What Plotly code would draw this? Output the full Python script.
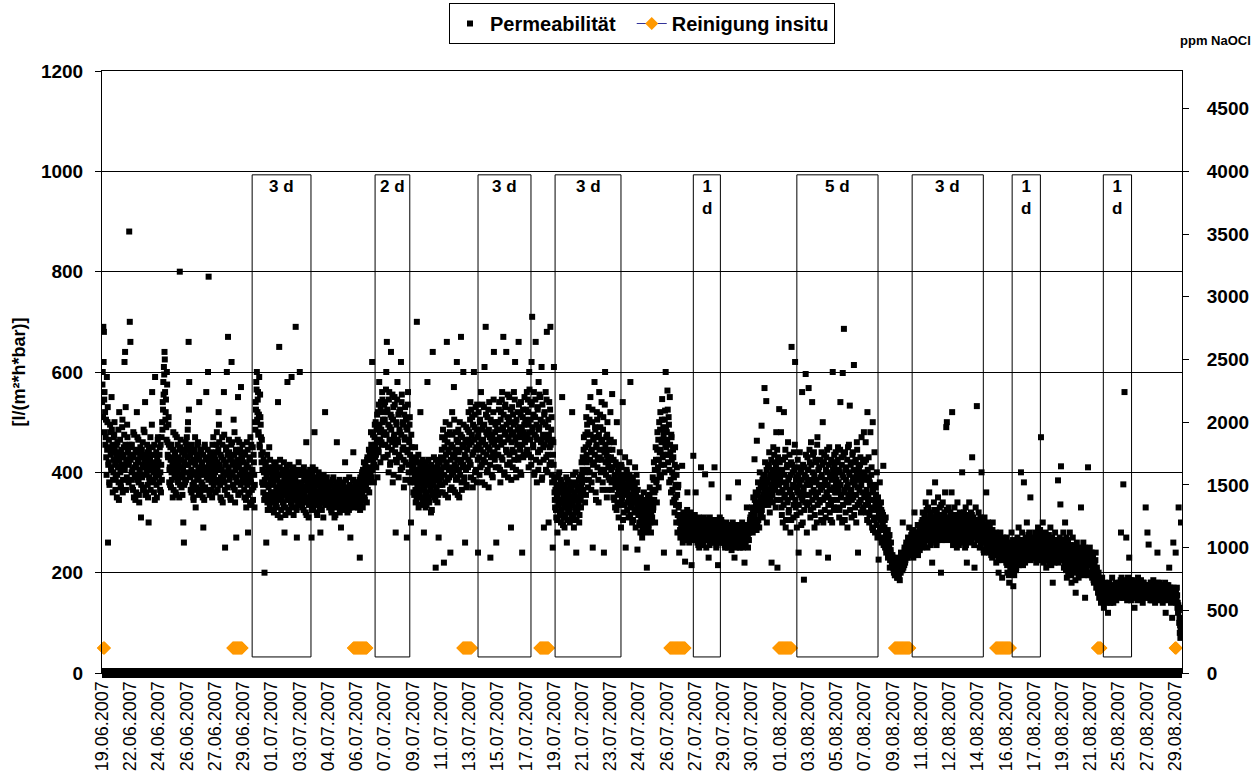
import plotly.graph_objects as go

# ---------------- data ----------------
tick_labels = ["19.06.2007", "22.06.2007", "24.06.2007", "26.06.2007", "27.06.2007", "29.06.2007",
               "01.07.2007", "03.07.2007", "04.07.2007", "06.07.2007", "07.07.2007", "09.07.2007",
               "11.07.2007", "13.07.2007", "15.07.2007", "17.07.2007", "19.07.2007", "21.07.2007",
               "23.07.2007", "24.07.2007", "26.07.2007", "27.07.2007", "29.07.2007", "30.07.2007",
               "01.08.2007", "03.08.2007", "05.08.2007", "07.08.2007", "09.08.2007", "11.08.2007",
               "12.08.2007", "14.08.2007", "16.08.2007", "17.08.2007", "19.08.2007", "21.08.2007",
               "25.08.2007", "27.08.2007", "29.08.2007"]
samples_per_label = 96

# Permeabilität [l/(m²*h*bar)] - readings A (even samples), 19.06. - 01.07.
perm_a = [
    540, 600, 690, 680, 560, 520, 470, 430, 590, 500, 260, 420, 380, 450, 480, 410, 550, 440, 360, 400, 470, 500, 420, 390,
    430, 350, 460, 410, 380, 520, 440, 400, 370, 430, 490, 360, 410, 450, 620, 640, 530, 420, 390, 470, 440, 380, 880, 700,
    660, 450, 400, 370, 430, 480, 350, 410, 390, 440, 360, 520, 470, 420, 380, 340, 400, 450, 310, 430, 390, 460, 410, 370,
    480, 540, 420, 360, 400, 440, 350, 300, 390, 430, 470, 410, 380, 560, 450, 400, 360, 420, 590, 390, 440, 350, 410, 470,
    420, 380, 450, 400, 360, 470, 500, 540, 580, 610, 640, 560, 520, 490, 600, 460, 430, 510, 380, 410, 450, 370, 400, 430,
    350, 480, 420, 390, 440, 360, 410, 470, 400, 380, 430, 350, 800, 450, 410, 370, 440, 390, 300, 260, 420, 380, 460, 400,
    470, 430, 500, 660, 580, 450, 390, 420, 360, 400, 440, 350, 380, 420, 470, 330, 400, 370, 430, 460, 390, 540, 410, 360,
    440, 380, 420, 350, 290, 400, 450, 370, 410, 560, 390, 430, 600, 790, 420, 360, 400, 440, 380, 350, 410, 470, 390, 430,
    400, 360, 440, 480, 420, 380, 520, 460, 410, 350, 390, 430, 470, 340, 400, 560, 380, 250, 420, 450, 600, 370, 670, 410,
    440, 390, 350, 430, 620, 460, 400, 370, 420, 480, 340, 390, 270, 440, 410, 550, 380, 460, 420, 360, 570, 400, 430, 390,
    380, 420, 350, 440, 400, 330, 460, 390, 280, 410, 360, 430, 470, 380, 340, 400, 450, 370, 420, 330, 500, 540, 580, 600,
    520, 560, 480, 590, 450, 510, 470, 420, 380, 440, 360, 400, 200, 350, 420, 260, 390, 340, 410, 370, 450, 330, 400, 360,
]
# 01.07. - 15.07.
perm_b = [
    380, 340, 410, 360, 320, 400, 350, 420, 370, 330, 390, 540, 360, 650, 410, 310, 380, 350, 400, 340, 370, 420, 280, 390,
    330, 360, 410, 580, 350, 380, 320, 400, 370, 340, 590, 390, 360, 410, 330, 380, 350, 690, 400, 270, 370, 340, 420, 360,
    600, 380, 350, 400, 330, 370, 360, 410, 340, 390, 320, 460, 370, 350, 400, 310, 380, 340, 360, 390, 270, 350, 410, 330,
    370, 480, 360, 340, 390, 320, 380, 350, 400, 360, 330, 280, 370, 390, 340, 360, 310, 380, 350, 520, 370, 340, 390, 360,
    350, 370, 330, 360, 340, 380, 320, 350, 360, 390, 340, 310, 370, 350, 330, 460, 360, 340, 380, 350, 320, 370, 290, 350,
    360, 340, 380, 330, 360, 420, 350, 370, 340, 320, 360, 350, 390, 330, 270, 360, 340, 370, 350, 440, 330, 360, 380, 350,
    360, 340, 380, 330, 370, 350, 230, 390, 340, 360, 400, 330, 380, 420, 350, 370, 410, 390, 340, 430, 380, 400, 360, 440,
    410, 480, 390, 620, 450, 420, 380, 470, 430, 500, 410, 460, 390, 520, 440, 580, 480, 420, 540, 460, 560, 500, 430, 520,
    480, 540, 430, 600, 660, 520, 450, 400, 560, 490, 420, 640, 510, 460, 380, 530, 470, 550, 440, 280, 500, 420, 580, 460,
    390, 520, 480, 430, 620, 540, 410, 500, 450, 370, 470, 530, 420, 490, 270, 440, 560, 400, 460, 510, 380, 300, 450, 420,
    400, 360, 430, 380, 450, 340, 390, 700, 370, 420, 330, 400, 360, 520, 380, 350, 410, 340, 390, 280, 370, 420, 330, 400,
    360, 580, 350, 390, 340, 410, 370, 320, 400, 360, 640, 380, 430, 350, 390, 210, 370, 410, 340, 390, 270, 380, 420, 360,
    430, 390, 470, 360, 410, 220, 450, 380, 500, 420, 660, 460, 350, 440, 390, 480, 240, 410, 370, 520, 450, 400, 570, 430,
    360, 480, 410, 620, 390, 460, 440, 350, 500, 420, 670, 380, 470, 410, 600, 450, 390, 260, 430, 490, 370, 460, 410, 520,
]
# 15.07. - 29.07.
perm_c = [
    480, 420, 540, 390, 460, 510, 370, 440, 600, 490, 400, 530, 450, 380, 470, 240, 520, 430, 500, 410, 560, 460, 380, 490,
    440, 530, 610, 420, 690, 480, 400, 510, 450, 370, 540, 470, 230, 430, 500, 460, 390, 520, 640, 440, 480, 410, 260, 500,
    450, 500, 410, 540, 470, 380, 520, 430, 560, 490, 670, 460, 400, 530, 480, 640, 440, 510, 390, 470, 550, 420, 500, 290,
    460, 530, 410, 480, 560, 440, 620, 500, 390, 470, 520, 430, 660, 490, 450, 400, 540, 470, 240, 510, 430, 480, 550, 460,
    500, 440, 560, 470, 520, 410, 600, 480, 540, 430, 620, 710, 490, 450, 560, 400, 510, 660, 470, 380, 530, 440, 580, 490,
    420, 550, 460, 610, 390, 500, 450, 290, 520, 470, 560, 430, 680, 400, 490, 300, 540, 450, 690, 420, 510, 380, 250, 460,
    610, 360, 330, 390, 310, 350, 280, 370, 340, 400, 320, 360, 300, 380, 550, 340, 310, 370, 290, 350, 330, 390, 260, 360,
    320, 380, 340, 300, 370, 350, 310, 520, 340, 380, 290, 360, 330, 400, 240, 350, 320, 370, 340, 300, 390, 360, 330, 420,
    380, 430, 360, 470, 400, 340, 450, 510, 420, 480, 370, 530, 460, 400, 550, 440, 380, 500, 250, 470, 420, 580, 490, 360,
    450, 520, 410, 470, 340, 560, 430, 490, 400, 540, 460, 380, 510, 240, 440, 600, 420, 470, 350, 500, 430, 390, 460, 410,
    520, 430, 380, 556, 410, 350, 460, 390, 330, 420, 370, 500, 340, 400, 310, 380, 440, 360, 290, 410, 350, 540, 390, 320,
    370, 430, 250, 360, 400, 340, 380, 310, 420, 350, 580, 330, 370, 300, 390, 340, 360, 320, 410, 290, 350, 380, 246, 330,
    340, 300, 320, 280, 350, 310, 270, 330, 290, 360, 310, 280, 340, 300, 210, 320, 350, 290, 330, 370, 300, 280, 340, 310,
    390, 330, 420, 360, 300, 450, 380, 340, 480, 410, 370, 500, 440, 520, 390, 460, 546, 430, 490, 240, 400, 523, 600, 450,
]
# 29.07. - 12.08.
perm_d = [
    480, 563, 420, 510, 380, 550, 440, 360, 470, 400, 340, 430, 390, 320, 450, 350, 300, 410, 280, 370, 330, 240, 300, 270,
    310, 290, 413, 260, 320, 280, 300, 222, 290, 270, 310, 360, 280, 300, 260, 290, 320, 270, 215, 300, 280, 433, 310, 270,
    290, 360, 270, 300, 260, 280, 310, 250, 290, 270, 410, 300, 280, 260, 290, 310, 270, 396, 280, 250, 300, 270, 290, 230,
    280, 310, 260, 290, 376, 270, 300, 280, 260, 410, 290, 270, 250, 300, 280, 215, 290, 260, 310, 280, 270, 300, 260, 290,
    280, 260, 290, 250, 270, 300, 260, 280, 250, 350, 270, 290, 260, 280, 245, 270, 300, 260, 280, 230, 270, 290, 250, 280,
    260, 380, 270, 290, 250, 270, 260, 280, 300, 250, 270, 290, 220, 270, 260, 280, 330, 270, 250, 290, 280, 300, 310, 290,
    300, 330, 280, 350, 310, 426, 290, 360, 330, 463, 300, 380, 340, 290, 400, 350, 320, 493, 370, 310, 390, 340, 568, 420,
    360, 542, 300, 380, 410, 350, 440, 320, 390, 360, 220, 400, 340, 450, 380, 420, 370, 330, 480, 400, 210, 430, 360, 526,
    420, 360, 480, 330, 400, 300, 380, 520, 350, 430, 290, 370, 410, 340, 460, 320, 390, 360, 280, 420, 650, 350, 400, 310,
    440, 370, 620, 330, 390, 290, 410, 360, 240, 380, 440, 320, 400, 350, 560, 300, 370, 186, 410, 340, 596, 390, 280, 430,
    380, 568, 340, 420, 310, 460, 360, 540, 400, 330, 440, 290, 380, 350, 420, 300, 470, 360, 240, 410, 340, 390, 320, 440,
    370, 500, 300, 420, 350, 380, 310, 430, 360, 400, 230, 350, 450, 320, 390, 340, 420, 300, 600, 370, 330, 410, 360, 440,
    360, 420, 330, 450, 380, 310, 400, 540, 350, 430, 300, 598, 390, 686, 360, 440, 320, 410, 370, 290, 450, 340, 400, 533,
    360, 420, 310, 380, 440, 350, 614, 390, 330, 420, 300, 460, 370, 240, 410, 340, 390, 430, 320, 470, 360, 400, 330, 480,
]
# 12.08. - 21.08.
perm_e = [
    420, 350, 460, 320, 390, 520, 340, 430, 300, 380, 480, 330, 410, 290, 500, 360, 310, 440, 280, 370, 330, 400, 270, 350,
    226, 310, 380, 290, 340, 260, 320, 300, 413, 270, 290, 250, 310, 240, 280, 260, 230, 270, 250, 210, 240, 260, 230, 220,
    230, 210, 200, 220, 195, 215, 205, 230, 190, 210, 225, 200, 185, 215, 240, 205, 220, 300, 210, 230, 250, 220, 240, 260,
    230, 250, 270, 240, 290, 255, 235, 265, 245, 280, 250, 230, 260, 320, 240, 270, 250, 280, 255, 235, 265, 290, 245, 270,
    270, 300, 250, 320, 280, 260, 310, 290, 340, 270, 300, 250, 330, 280, 360, 300, 260, 320, 290, 220, 310, 270, 340, 290,
    380, 300, 260, 320, 280, 350, 300, 270, 330, 290, 200, 310, 280, 340, 300, 270, 320, 360, 290, 490, 500, 310, 280, 330,
    300, 270, 320, 290, 360, 520, 280, 310, 260, 330, 290, 270, 310, 250, 340, 290, 300, 270, 320, 280, 260, 310, 400, 290,
    270, 320, 300, 250, 330, 280, 220, 310, 290, 270, 340, 300, 260, 320, 290, 430, 280, 310, 270, 210, 300, 330, 290, 532,
    300, 270, 320, 280, 250, 310, 290, 400, 260, 300, 280, 240, 310, 270, 290, 360, 250, 280, 300, 260, 240, 290, 270, 250,
    280, 230, 300, 260, 240, 270, 250, 280, 220, 260, 240, 270, 200, 250, 230, 280, 260, 240, 190, 250, 270, 230, 260, 240,
    250, 220, 270, 200, 240, 260, 180, 230, 210, 250, 280, 200, 240, 173, 220, 260, 230, 250, 210, 240, 270, 230, 290, 250,
    220, 260, 400, 240, 280, 230, 260, 380, 250, 220, 270, 240, 300, 260, 230, 250, 280, 240, 350, 260, 230, 270, 250, 240,
]
# 21.08. - end
perm_f = [
    260, 230, 280, 250, 220, 270, 240, 290, 260, 230, 280, 250, 470, 270, 230, 300, 250, 220, 260, 240, 280, 210, 250, 230,
    270, 240, 260, 220, 290, 250, 230, 270, 180, 240, 260, 220, 280, 250, 230, 260, 240, 384, 220, 250, 270, 336, 412, 240,
    260, 230, 280, 210, 250, 300, 220, 270, 190, 240, 260, 200, 230, 280, 210, 250, 180, 230, 270, 220, 250, 200, 240, 160,
    220, 260, 210, 240, 190, 230, 250, 210, 330, 240, 200, 230, 260, 220, 250, 150, 230, 210, 240, 200, 410, 230, 220, 250,
    220, 200, 240, 190, 230, 210, 180, 220, 200, 240, 170, 210, 190, 160, 200, 150, 180, 170, 140, 160, 190, 150, 170, 130,
    160, 180, 150, 170, 140, 160, 120, 150, 180, 160, 140, 170, 150, 190, 160, 140, 170, 150, 160, 180, 145, 165, 155, 175,
    160, 180, 150, 170, 280, 190, 160, 170, 376, 150, 560, 180, 160, 270, 170, 150, 190, 165, 230, 155, 175, 145, 170, 185,
    160, 150, 175, 130, 165, 180, 155, 170, 145, 190, 160, 175, 150, 165, 185, 155, 170, 140, 180, 160, 175, 150, 330, 165,
    170, 280, 155, 256, 175, 160, 145, 180, 165, 150, 170, 185, 155, 165, 140, 175, 160, 150, 240, 170, 155, 180, 145, 165,
    160, 175, 150, 140, 170, 155, 165, 180, 120, 160, 150, 175, 145, 165, 210, 155, 170, 140, 160, 110, 150, 260, 165, 145,
    160, 240, 140, 170, 130, 120, 330, 100, 80, 70, 300, 110,
]

# Permeabilität - readings B (odd samples, in between readings A)
perm_a2 = [
    575, 510, 620, 545, 480, 455, 505, 395, 445, 530, 415, 465, 375, 495, 435, 405, 485, 455, 385, 425, 475, 445, 365, 415,
    455, 395, 435, 485, 345, 425, 465, 375, 445, 415, 505, 385, 435, 475, 405, 455, 365, 425, 495, 445, 385, 415, 455, 435,
    425, 385, 455, 405, 365, 435, 475, 395, 345, 415, 445, 385, 425, 465, 355, 405, 435, 395, 375, 445, 415, 365, 485, 425,
    395, 355, 435, 405, 455, 375, 415, 445, 385, 425, 365, 405, 495, 435, 385, 415, 455, 345, 405, 435, 375, 425, 465, 395,
    395, 435, 365, 455, 415, 385, 485, 525, 555, 595, 625, 505, 545, 465, 575, 435, 495, 455, 405, 375, 425, 455, 385, 415,
    445, 365, 405, 435, 475, 395, 355, 425, 455, 385, 415, 445, 375, 465, 395, 425, 355, 405, 445, 375, 435, 415, 385, 455,
    445, 485, 415, 525, 395, 435, 365, 405, 455, 375, 425, 345, 395, 445, 415, 365, 435, 385, 455, 405, 355, 425, 395, 445,
    365, 415, 375, 435, 405, 345, 455, 395, 425, 365, 405, 445, 385, 415, 355, 435, 395, 425, 365, 455, 405, 375, 435, 415,
    425, 385, 455, 405, 365, 445, 495, 415, 375, 435, 345, 405, 455, 385, 425, 475, 365, 415, 445, 395, 355, 435, 405, 465,
    385, 425, 345, 455, 395, 415, 375, 505, 435, 365, 405, 445, 385, 425, 465, 355, 415, 395, 445, 375, 435, 405, 455, 385,
    405, 365, 435, 385, 345, 415, 375, 445, 355, 395, 425, 335, 385, 455, 365, 405, 345, 435, 395, 375, 485, 525, 565, 505,
    545, 475, 515, 455, 555, 495, 435, 465, 405, 375, 425, 345, 385, 415, 355, 395, 435, 325, 375, 405, 345, 425, 385, 355,
]
perm_b2 = [
    355, 395, 325, 375, 415, 345, 385, 335, 405, 365, 315, 395, 345, 375, 425, 355, 325, 395, 365, 405, 335, 385, 355, 315,
    375, 405, 345, 395, 325, 365, 415, 345, 385, 355, 335, 405, 375, 315, 395, 345, 385, 365, 325, 405, 355, 395, 335, 375,
    365, 395, 335, 375, 345, 405, 325, 385, 355, 365, 395, 315, 375, 345, 385, 335, 365, 405, 345, 375, 325, 395, 355, 385,
    335, 365, 405, 345, 375, 315, 385, 355, 395, 335, 365, 345, 385, 325, 375, 355, 395, 345, 365, 335, 385, 355, 375, 345,
    345, 365, 335, 355, 375, 325, 355, 345, 385, 335, 365, 355, 315, 345, 375, 335, 365, 355, 345, 385, 325, 355, 365, 335,
    345, 375, 355, 325, 365, 345, 385, 335, 355, 365, 345, 325, 375, 355, 335, 365, 345, 355, 385, 335, 365, 345, 375, 355,
    345, 375, 335, 365, 355, 385, 325, 345, 375, 395, 355, 405, 365, 385, 345, 415, 375, 395, 425, 365, 405, 445, 385, 425,
    395, 455, 435, 405, 475, 445, 415, 495, 455, 435, 485, 515, 465, 445, 535, 495, 465, 525, 485, 455, 545, 505, 475, 535,
    505, 455, 565, 475, 525, 435, 495, 545, 465, 415, 515, 485, 445, 555, 505, 395, 475, 535, 455, 425, 495, 545, 465, 515,
    435, 485, 525, 405, 475, 555, 445, 495, 425, 515, 465, 385, 505, 445, 485, 535, 415, 465, 495, 435, 385, 475, 425, 405,
    385, 415, 355, 395, 365, 425, 345, 405, 375, 435, 355, 385, 415, 335, 395, 365, 425, 375, 345, 405, 385, 355, 415, 335,
    395, 375, 425, 345, 385, 405, 365, 415, 325, 395, 375, 355, 405, 385, 345, 425, 365, 395, 415, 355, 385, 405, 375, 395,
    405, 445, 375, 485, 425, 395, 465, 355, 435, 415, 475, 385, 445, 405, 495, 365, 425, 455, 395, 475, 435, 365, 505, 415,
    445, 385, 465, 425, 355, 485, 405, 445, 395, 475, 425, 365, 455, 415, 495, 385, 435, 465, 405, 375, 445, 485, 425, 465,
]
perm_c2 = [
    455, 505, 415, 525, 475, 435, 495, 385, 465, 515, 445, 405, 485, 535, 425, 475, 455, 395, 505, 445, 485, 415, 535, 465,
    425, 495, 375, 455, 515, 435, 475, 405, 525, 485, 445, 415, 505, 465, 395, 475, 435, 545, 455, 425, 495, 465, 435, 485,
    485, 435, 525, 465, 405, 505, 455, 545, 425, 485, 515, 395, 475, 535, 445, 495, 415, 555, 465, 505, 435, 485, 525, 385,
    475, 445, 515, 495, 425, 545, 465, 405, 505, 455, 485, 425, 535, 475, 445, 515, 395, 485, 455, 525, 435, 495, 465, 505,
    475, 525, 445, 545, 495, 435, 565, 465, 505, 415, 535, 485, 455, 515, 395, 475, 545, 425, 495, 465, 525, 405, 485, 555,
    445, 505, 465, 385, 535, 475, 425, 515, 455, 495, 405, 545, 465, 435, 505, 475, 415, 525, 455, 485, 395, 465, 435, 415,
    385, 345, 365, 325, 375, 305, 355, 395, 335, 365, 315, 385, 345, 325, 365, 295, 355, 335, 375, 315, 345, 365, 305, 385,
    335, 355, 325, 375, 345, 305, 365, 335, 395, 315, 355, 345, 325, 375, 305, 345, 365, 335, 385, 315, 355, 345, 375, 395,
    405, 365, 445, 385, 425, 475, 355, 435, 495, 405, 455, 385, 505, 425, 475, 365, 445, 525, 415, 465, 395, 435, 485, 345,
    455, 505, 425, 385, 475, 445, 515, 405, 465, 425, 365, 485, 445, 405, 535, 455, 395, 435, 475, 365, 415, 445, 385, 425,
    465, 405, 365, 445, 385, 425, 345, 395, 375, 415, 325, 385, 355, 405, 365, 335, 395, 375, 415, 345, 385, 305, 365, 395,
    335, 375, 355, 405, 325, 365, 385, 345, 395, 315, 375, 355, 335, 385, 305, 365, 345, 375, 325, 355, 395, 335, 365, 315,
    315, 335, 295, 325, 305, 345, 285, 315, 335, 295, 325, 305, 345, 285, 315, 335, 295, 325, 355, 305, 335, 315, 345, 365,
    325, 385, 345, 405, 365, 425, 385, 445, 405, 465, 425, 395, 485, 445, 415, 505, 465, 435, 475, 415, 505, 455, 485, 435,
]
perm_d2 = [
    465, 525, 435, 495, 405, 455, 385, 475, 425, 365, 445, 395, 345, 415, 375, 335, 395, 355, 315, 375, 335, 305, 285, 315,
    295, 275, 305, 285, 265, 295, 315, 275, 305, 285, 325, 265, 295, 305, 275, 315, 285, 295, 265, 305, 285, 275, 295, 315,
    275, 295, 265, 285, 305, 255, 285, 275, 295, 265, 305, 285, 275, 255, 295, 285, 265, 305, 275, 295, 285, 265, 275, 305,
    255, 285, 295, 275, 265, 295, 285, 305, 275, 265, 285, 295, 255, 275, 305, 285, 265, 295, 275, 285, 305, 265, 285, 275,
    265, 285, 255, 275, 295, 265, 275, 255, 285, 265, 275, 295, 255, 285, 265, 275, 285, 255, 265, 295, 275, 265, 285, 255,
    275, 295, 265, 285, 255, 275, 285, 265, 275, 295, 255, 285, 265, 275, 285, 265, 295, 275, 285, 265, 295, 305, 285, 315,
    305, 285, 325, 295, 315, 345, 305, 335, 285, 355, 325, 305, 365, 335, 315, 375, 345, 325, 385, 355, 335, 395, 365, 345,
    375, 405, 355, 385, 335, 415, 365, 395, 345, 425, 375, 355, 405, 385, 435, 365, 395, 415, 345, 445, 385, 405, 375, 395,
    385, 345, 405, 315, 365, 425, 335, 395, 355, 445, 305, 375, 415, 345, 385, 325, 435, 365, 395, 305, 355, 415, 375, 335,
    405, 455, 345, 385, 315, 365, 425, 395, 335, 375, 355, 405, 295, 385, 345, 415, 365, 325, 395, 355, 435, 375, 335, 405,
    405, 355, 445, 375, 325, 415, 385, 345, 435, 365, 395, 315, 425, 355, 385, 455, 335, 405, 375, 345, 425, 365, 305, 395,
    415, 345, 375, 435, 325, 385, 405, 355, 445, 375, 335, 415, 365, 395, 305, 425, 385, 345, 405, 365, 435, 325, 395, 375,
    385, 345, 425, 365, 405, 325, 445, 375, 355, 415, 395, 335, 435, 365, 305, 405, 385, 345, 425, 375, 355, 455, 395, 325,
    415, 365, 345, 435, 385, 405, 315, 375, 425, 355, 395, 445, 335, 385, 405, 365, 415, 345, 375, 395, 325, 425, 385, 355,
]
perm_e2 = [
    395, 335, 425, 365, 305, 405, 355, 385, 315, 375, 345, 395, 325, 365, 285, 345, 375, 305, 335, 355, 295, 325, 345, 275,
    315, 335, 285, 305, 325, 265, 295, 315, 255, 285, 305, 265, 275, 245, 265, 285, 235, 255, 275, 225, 245, 235, 215, 235,
    225, 205, 215, 195, 210, 200, 220, 190, 205, 215, 195, 210, 220, 200, 230, 215, 205, 225, 235, 215, 245, 225, 235, 255,
    240, 230, 260, 245, 265, 235, 250, 275, 240, 260, 285, 250, 270, 245, 265, 280, 255, 270, 295, 260, 275, 250, 285, 265,
    285, 265, 305, 275, 295, 255, 315, 285, 265, 325, 295, 275, 305, 265, 285, 315, 255, 295, 275, 305, 265, 285, 325, 295,
    275, 305, 255, 285, 315, 265, 295, 275, 305, 285, 335, 265, 295, 315, 275, 285, 305, 265, 295, 325, 285, 305, 275, 295,
    285, 305, 265, 295, 275, 315, 255, 285, 305, 275, 295, 265, 315, 285, 275, 305, 255, 295, 285, 265, 305, 275, 295, 315,
    265, 285, 305, 275, 255, 295, 285, 315, 265, 305, 275, 285, 295, 265, 315, 275, 305, 285, 255, 295, 275, 305, 285, 265,
    285, 305, 265, 295, 275, 255, 305, 285, 265, 295, 245, 275, 295, 265, 285, 255, 275, 295, 245, 265, 285, 255, 275, 235,
    265, 285, 245, 265, 255, 275, 235, 255, 265, 245, 275, 225, 255, 245, 265, 235, 255, 245, 225, 265, 235, 255, 245, 235,
    235, 255, 215, 245, 225, 195, 235, 255, 205, 225, 245, 215, 265, 235, 195, 225, 245, 205, 235, 255, 225, 245, 215, 265,
    235, 255, 225, 245, 265, 215, 235, 255, 245, 225, 265, 235, 255, 245, 275, 235, 255, 265, 225, 245, 265, 235, 255, 245,
]
perm_f2 = [
    245, 265, 235, 255, 275, 225, 255, 245, 265, 235, 285, 245, 225, 255, 265, 235, 245, 275, 225, 255, 235, 265, 245, 225,
    255, 275, 235, 245, 265, 215, 255, 235, 245, 265, 225, 255, 245, 235, 265, 255, 225, 245, 265, 235, 255, 245, 265, 235,
    245, 225, 265, 235, 215, 255, 205, 245, 225, 265, 195, 235, 215, 255, 225, 195, 245, 215, 235, 205, 255, 225, 185, 235,
    215, 245, 205, 225, 235, 195, 245, 225, 215, 235, 205, 245, 225, 195, 235, 215, 225, 205, 235, 215, 195, 225, 235, 215,
    215, 195, 225, 205, 235, 185, 215, 200, 225, 190, 205, 180, 195, 175, 185, 165, 175, 160, 180, 150, 165, 175, 155, 170,
    160, 145, 165, 175, 150, 160, 170, 145, 165, 155, 175, 150, 160, 170, 145, 165, 155, 175, 150, 160, 170, 155, 165, 160,
    165, 175, 155, 185, 160, 170, 150, 175, 165, 185, 155, 170, 160, 180, 145, 165, 175, 155, 170, 160, 185, 150, 165, 175,
    155, 170, 160, 180, 150, 165, 175, 160, 170, 150, 180, 165, 155, 175, 160, 170, 150, 165, 180, 155, 170, 160, 175, 155,
    160, 175, 150, 165, 170, 155, 180, 160, 145, 170, 165, 155, 175, 150, 165, 160, 170, 155, 180, 160, 150, 165, 175, 155,
    160, 170, 145, 165, 155, 175, 160, 150, 170, 165, 155, 160, 175, 150, 165, 155, 170, 160, 150, 165, 155, 170, 145, 160,
    150, 165, 145, 155, 140, 135, 125, 110, 95, 85, 105, 130,
]

# in-situ cleaning (Reinigung insitu): sample-index ranges and dosing level [ppm NaOCl]
cleaning_runs = [(4, 8), (444, 476), (854, 900), (1226, 1256), (1488, 1518), (1930, 1982),
                 (2300, 2344), (2694, 2746), (3038, 3088), (3384, 3396), (3648, 3652)]
cleaning_ppm = 200

# marked periods (boxes) with their durations
period_starts = [510, 928, 1278, 1540, 2010, 2362, 2754, 3094, 3404]
period_ends = [710, 1046, 1458, 1764, 2102, 2638, 2996, 3190, 3500]
period_labels = ["3 d", "2 d", "3 d", "3 d", "1<br>d", "5 d", "3 d", "1<br>d", "1<br>d"]
period_low, period_high = 32, 993

# ---------------- figure ----------------
readings_a = perm_a + perm_b + perm_c + perm_d + perm_e + perm_f
readings_b = perm_a2 + perm_b2 + perm_c2 + perm_d2 + perm_e2 + perm_f2
perm = [v for pair in zip(readings_a, readings_b) for v in pair]
x_idx = list(range(len(perm)))
n = len(perm)

cx, cy = [], []
for s, e in cleaning_runs:
    for i in range(s, e + 1):
        cx.append(i)
        cy.append(cleaning_ppm)
    cx.append(None)
    cy.append(None)

FONT = "Liberation Sans, Arial, sans-serif"
NB = "\u00a0"

fig = go.Figure()
fig.add_trace(go.Scatter(
    x=x_idx, y=perm, mode="markers", name="Permeabilität" + NB * 2,
    marker=dict(symbol="square", size=6, color="black", line=dict(width=0)),
))
fig.add_trace(go.Scatter(
    x=cx, y=cy, mode="lines+markers", name="Reinigung insitu", yaxis="y2",
    line=dict(color="#333399", width=1),
    marker=dict(symbol="diamond", size=10, color="#FF9900", line=dict(width=0)),
    cliponaxis=False, connectgaps=False,
))

shapes = []
annotations = []
for s, e, lab in zip(period_starts, period_ends, period_labels):
    shapes.append(dict(type="rect", xref="x", yref="y", x0=s, x1=e, y0=period_low, y1=period_high,
                       line=dict(color="black", width=1), fillcolor="rgba(0,0,0,0)", layer="above"))
    annotations.append(dict(x=(s + e) / 2, y=period_high - 1, xref="x", yref="y", text="<b>%s</b>" % lab,
                            showarrow=False, yanchor="top", xanchor="center",
                            font=dict(family=FONT, size=17, color="black")))

# thick baseline along zero
shapes.append(dict(type="line", xref="x", yref="paper", x0=-0.5, x1=n - 0.5, y0=0, y1=0,
                   line=dict(color="black", width=10), layer="above"))

annotations.append(dict(x=1.031, y=1.05, xref="paper", yref="paper", text="<b>ppm NaOCl</b>",
                        showarrow=False, xanchor="center", yanchor="middle",
                        font=dict(family=FONT, size=13, color="black")))

fig.update_layout(
    width=1258, height=776,
    margin=dict(l=102, r=76, t=71, b=103, pad=0),
    paper_bgcolor="white", plot_bgcolor="white",
    font=dict(family=FONT, color="black"),
    showlegend=True,
    legend=dict(orientation="h", x=0.5, xanchor="center", xref="paper",
                y=1 - 3 / 776, yanchor="top", yref="container",
                bordercolor="black", borderwidth=1, bgcolor="white",
                font=dict(family=FONT, size=20, color="black", weight="bold"),
                itemwidth=30, tracegroupgap=0),
    xaxis=dict(range=[-0.5, n - 0.5],
               tickmode="array",
               tickvals=[k * samples_per_label for k in range(len(tick_labels))],
               ticktext=tick_labels, tickangle=-90,
               tickfont=dict(family=FONT, size=18, color="black"),
               showgrid=False, zeroline=False, showline=True, mirror=True,
               linecolor="black", linewidth=1, ticks="", automargin=False),
    yaxis=dict(range=[0, 1200], dtick=200, tick0=0,
               showgrid=True, gridcolor="black", gridwidth=1,
               zeroline=False, showline=True, linecolor="black", linewidth=1,
               ticks="outside", ticklen=6, tickcolor="black", ticklabelstandoff=8,
               tickfont=dict(family=FONT, size=19, color="black", weight="bold"),
               automargin=False,
               title=dict(text="<b>[l/(m²*h*bar)]</b>", standoff=10,
                          font=dict(family=FONT, size=18, color="black"))),
    yaxis2=dict(range=[0, 4800], dtick=500, tick0=0, overlaying="y", side="right",
                showgrid=False, zeroline=False, showline=True, linecolor="black", linewidth=1,
                ticks="outside", ticklen=6, tickcolor="black", ticklabelstandoff=14,
                tickfont=dict(family=FONT, size=19, color="black", weight="bold"),
                automargin=False),
    shapes=shapes,
    annotations=annotations,
)

fig.write_html("out.html")
